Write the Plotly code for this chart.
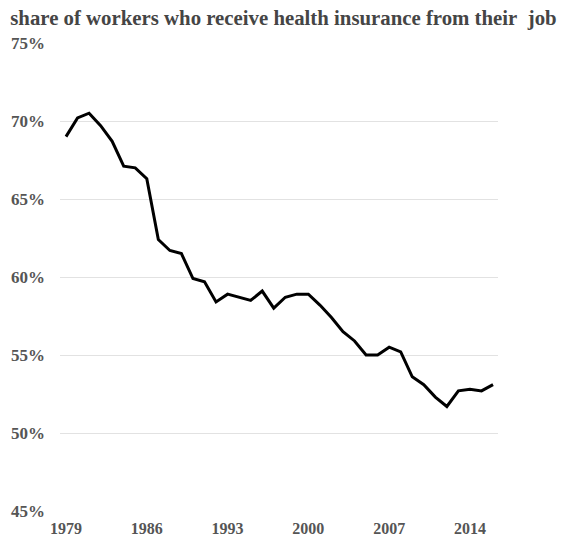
import plotly.graph_objects as go

years = list(range(1979, 2017))
share = [
    69.0, 70.2, 70.5, 69.7, 68.7, 67.1, 67.0, 66.3, 62.4, 61.7,
    61.5, 59.9, 59.7, 58.4, 58.9, 58.7, 58.5, 59.1, 58.0, 58.7,
    58.9, 58.9, 58.2, 57.4, 56.5, 55.9, 55.0, 55.0, 55.5, 55.2,
    53.6, 53.1, 52.3, 51.7, 52.7, 52.8, 52.7, 53.1,
]
x_ticks = [1979, 1986, 1993, 2000, 2007, 2014]
y_ticks = [45, 50, 55, 60, 65, 70, 75]

serif = "Liberation Serif, Times New Roman, serif"

fig = go.Figure(
    go.Scatter(
        x=years,
        y=share,
        mode="lines",
        line=dict(color="#000000", width=3),
        hoverinfo="skip",
    )
)
# page body has an 8px margin, so the figure is 8px smaller than the window
fig.update_layout(
    width=557,
    height=534,
    plot_bgcolor="white",
    paper_bgcolor="white",
    showlegend=False,
    margin=dict(l=52, r=67, t=35, b=31),
    title=dict(
        text="share of workers who receive health insurance from their&nbsp; job",
        x=0.004,
        xanchor="left",
        y=0.981,
        yanchor="middle",
        font=dict(family=serif, size=20.8, color="#454545", weight="bold"),
    ),
    font=dict(family=serif, size=16, color="#555555", weight="bold"),
)
fig.update_xaxes(
    range=[1978.48, 2016.43],
    tickvals=x_ticks,
    ticktext=[str(y) for y in x_ticks],
    showgrid=False,
    zeroline=False,
    showline=False,
    ticks="",
    automargin=False,
    ticklabelstandoff=6,
    tickfont=dict(family=serif, size=16, color="#555555", weight="bold"),
)
fig.update_yaxes(
    range=[45, 75],
    tickvals=y_ticks,
    ticktext=[f"{v}%" for v in y_ticks],
    showgrid=True,
    gridcolor="#e2e2e2",
    gridwidth=1,
    zeroline=False,
    showline=False,
    ticks="",
    automargin=False,
    ticklabelstandoff=14,
    tickfont=dict(family=serif, size=17, color="#555555", weight="bold"),
)

fig.write_html("out.html")
